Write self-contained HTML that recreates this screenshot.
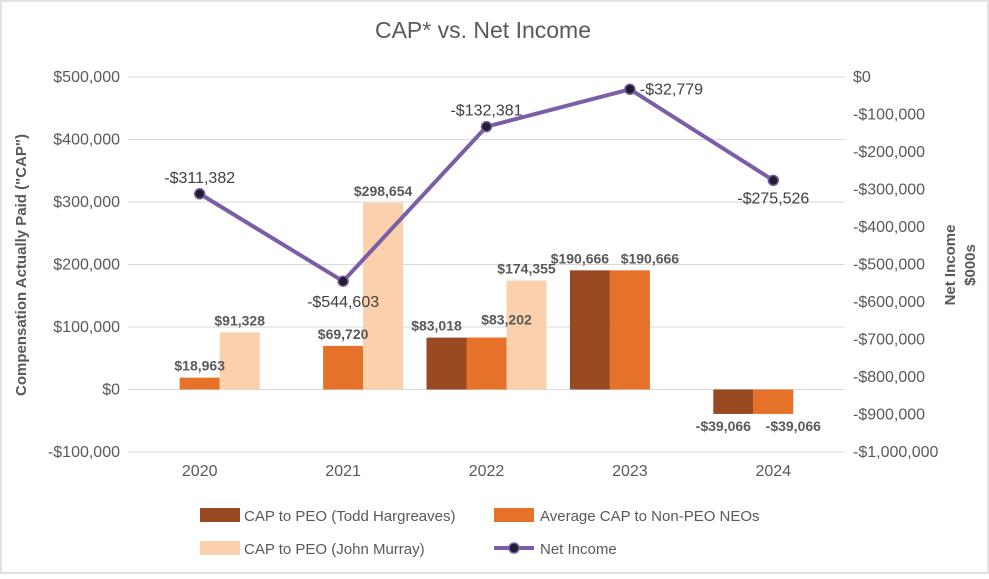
<!DOCTYPE html>
<html><head><meta charset="utf-8"><style>
body{margin:0;background:#fff;font-family:"Liberation Sans",Arial,sans-serif}
svg text{font-family:"Liberation Sans",Arial,sans-serif}
</style></head><body>
<svg id="c" width="989" height="574" xmlns="http://www.w3.org/2000/svg">
<rect x="1" y="1" width="987" height="572" fill="#fff" stroke="#d9d9d9" stroke-width="1.5"/>
<text x="483" y="38" font-size="23" fill="#595959" text-anchor="middle">CAP* vs. Net Income</text>
<g id="grid"></g><g id="bars"></g><g id="line"></g><g id="labels"></g>
<text transform="translate(26,265) rotate(-90)" font-size="15" font-weight="bold" fill="#595959" text-anchor="middle">Compensation Actually Paid ("CAP")</text>
<text transform="translate(955,265) rotate(-90)" font-size="15" font-weight="bold" fill="#595959" text-anchor="middle">Net Income</text>
<text transform="translate(975,265) rotate(-90)" font-size="15" font-weight="bold" fill="#595959" text-anchor="middle">$000s</text>
<g>
<rect x="200" y="508" width="40" height="14" fill="#974a22"/>
<text x="244" y="521" font-size="15" fill="#595959">CAP to PEO (Todd Hargreaves)</text>
<rect x="494" y="508" width="40" height="14" fill="#e6722a"/>
<text x="540" y="521" font-size="15" fill="#595959">Average CAP to Non-PEO NEOs</text>
<rect x="200" y="541" width="40" height="14" fill="#fbd0ad"/>
<text x="244" y="554" font-size="15" fill="#595959">CAP to PEO (John Murray)</text>
<line x1="494" y1="548" x2="534" y2="548" stroke="#7b5ea7" stroke-width="4"/>
<circle cx="514" cy="548" r="5" fill="#1f1f2e" stroke="#7b5ea7" stroke-width="1.5"/>
<text x="540" y="554" font-size="15" fill="#595959">Net Income</text>
</g>
</svg>
<script>
const categories=["2020","2021","2022","2023","2024"];
const capTodd=[null,null,83018,190666,-39066];
const capNonPeo=[18963,69720,83202,190666,-39066];
const capMurray=[91328,298654,174355,null,null];
const netIncome=[-311382,-544603,-132381,-32779,-275526];
const leftTicks=[500000,400000,300000,200000,100000,0,-100000];
const rightTicks=[0,-100000,-200000,-300000,-400000,-500000,-600000,-700000,-800000,-900000,-1000000];
const NS="http://www.w3.org/2000/svg";
const X0=128,X1=845,Y0=77,Y1=452;
const yL=v=>Y0+(500000-v)/600000*(Y1-Y0);
const yR=v=>Y0+(0-v)/1000000*(Y1-Y0);
const bw=(X1-X0)/categories.length;
const xC=i=>X0+bw*(i+0.5);
function mk(t,a,p){const e=document.createElementNS(NS,t);for(const k in a)e.setAttribute(k,a[k]);document.getElementById(p).appendChild(e);return e;}
const fmt=v=>(v<0?"-$":"$")+Math.abs(v).toLocaleString("en-US");
leftTicks.forEach(v=>{const y=yL(v);
 const l=mk("line",{x1:X0,x2:X1,y1:y,y2:y,stroke:"#d9d9d9","stroke-width":1},"grid");
 
 
 const t=mk("text",{x:120,y:y+5,"font-size":16,fill:"#595959","text-anchor":"end"},"grid");t.textContent=fmt(v);
 
 });
rightTicks.forEach(v=>{const y=yR(v);
 const t=mk("text",{x:853,y:y+5,"font-size":16,fill:"#595959"},"grid");t.textContent=fmt(v);
 
 });
categories.forEach((c,i)=>{const t=mk("text",{x:xC(i),y:476,"font-size":16,fill:"#595959","text-anchor":"middle"},"grid");t.textContent=c;
 
 });
const series=[[capTodd,"#974a22","bar-todd"],[capNonPeo,"#e6722a","bar-nonpeo"],[capMurray,"#fbd0ad","bar-murray"]];
const w=40;
series.forEach(([arr,col,nm],s)=>{arr.forEach((v,i)=>{if(v===null)return;
 const x=xC(i)-60+s*w;const y=Math.min(yL(v),yL(0));const h=Math.abs(yL(v)-yL(0));
 const r=mk("rect",{x:x,y:y,width:w,height:h,fill:col},"bars");
 
 
 const pair=capTodd[i]!==null&&capNonPeo[i]!==null;
 let dx=0,dy=0;
 if(pair&&s===0)dx=-10;
 if(pair&&s===1){dx=20; if(v>0&&v<150000)dy=-6;}
 const ty=(v>=0?yL(v)-7:yL(v)+17)+dy;
 const t=mk("text",{x:x+w/2+dx,y:ty,"font-size":14,"font-weight":"bold",fill:"#595959","text-anchor":"middle"},"labels");t.textContent=fmt(v);
 
 });});
const pts=netIncome.map((v,i)=>xC(i)+","+yR(v)).join(" ");
const pl=mk("polyline",{points:pts,fill:"none",stroke:"#7b5ea7","stroke-width":4,"stroke-linejoin":"round"},"line");


netIncome.forEach((v,i)=>{const cx=xC(i),cy=yR(v);
 const c=mk("circle",{cx:cx,cy:cy,r:5,fill:"#1f1f2e",stroke:"#7b5ea7","stroke-width":1.5},"line");
 
 
 let tx=cx,ty=cy-11,anc="middle";
 if(i===1){ty=cy+26;}
 if(i===3){tx=cx+10;ty=cy+5;anc="start";}
 if(i===4){ty=cy+23;}
 const t=mk("text",{x:tx,y:ty,"font-size":16,fill:"#404040","text-anchor":anc},"labels");t.textContent=fmt(v);
 
 });
</script>
</body></html>
